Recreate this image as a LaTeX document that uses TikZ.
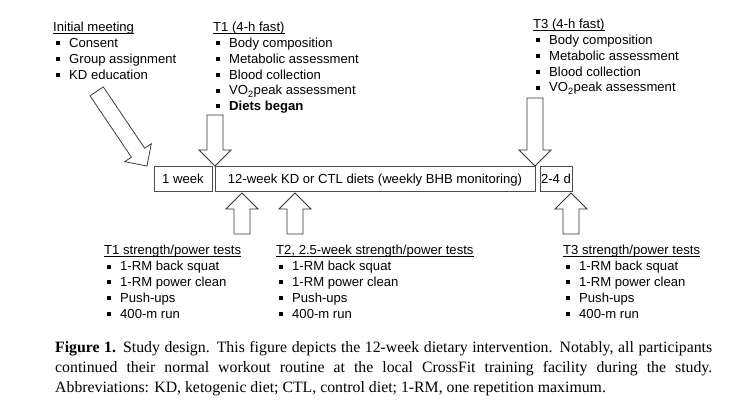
\documentclass[tikz,border=0pt]{standalone}
\usepackage{fontspec}
\setmainfont{Liberation Sans}
\newfontfamily\capfont{Liberation Serif}
\newcommand\ulx[1]{\setbox0\hbox{#1}\rlap{\rule[-1.9pt]{\wd0}{0.75pt}}\box0}
\newcommand\itm[1]{\makebox[16pt][l]{\hspace{2.5pt}\rule[2.2pt]{4pt}{4pt}}#1}
\tikzset{
  blk/.style={draw=black!80, line width=0.75pt, fill=white, line join=miter},
  pics/barrow/.style={code={\draw[blk] (0,0) -- (-16,16) -- (-16,8) -- (-#1,8) -- (-#1,-8) -- (-16,-8) -- (-16,-16) -- cycle;}}
}
\begin{document}
\begin{tikzpicture}[x=1pt,y=-1pt,
  txt/.style={anchor=base west, inner sep=0pt, font=\fontsize{13.1}{15.7}\selectfont},
  period/.style={draw=black!70, line width=0.8pt, minimum height=25pt, inner sep=0pt, text height=9.4pt, text depth=0pt, font=\fontsize{13.1}{15.7}\selectfont},
  captxt/.style={anchor=base west, inner sep=0pt, font=\capfont\fontsize{15.8}{20}\selectfont}
]
\fill[white] (0,0) rectangle (734,414);
\useasboundingbox (0,0) rectangle (734,414);

% timeline boxes
\node[period, minimum width=58pt] (w1) at (183,178.5) {1 week};
\node[period, minimum width=320pt] (diet) at (375,178.5) {12-week KD or CTL diets (weekly BHB monitoring)};
\node[period, minimum width=32pt] (d24) at (556,178.5) {2-4 d};

% block arrows
\pic[rotate=-56] at (147,166) {barrow=90};
\pic[rotate=-90] at (215,166) {barrow=51};
\pic[rotate=-90] at (535,166) {barrow=68};
\pic[rotate=90] at (242,193) {barrow=41};
\pic[rotate=90] at (295,193) {barrow=41};
\pic[rotate=90] at (571,193) {barrow=41};

% Initial meeting
\node[txt] (im0) at (53,32) {\ulx{Initial meeting}};
\foreach \t [count=\i] in {Consent,Group assignment,KD education}
  \node[txt] (im\i) at (53,32+15.7*\i) {\itm{\t}};

% T1 (4-h fast)
\node[txt] (ta0) at (213,32) {\ulx{T1 (4-h fast)}};
\foreach \t [count=\i] in {Body composition,Metabolic assessment,Blood collection,{VO\textsubscript{2}peak assessment},{\textbf{Diets began}}}
  \node[txt] (ta\i) at (213,32+15.7*\i) {\itm{\t}};

% T3 (4-h fast)
\node[txt] (tc0) at (533,29) {\ulx{T3 (4-h fast)}};
\foreach \t [count=\i] in {Body composition,Metabolic assessment,Blood collection,{VO\textsubscript{2}peak assessment}}
  \node[txt] (tc\i) at (533,29+15.7*\i) {\itm{\t}};

% strength tests
\node[txt] (sa0) at (104,255) {\ulx{T1 strength/power tests}};
\foreach \t [count=\i] in {1-RM back squat,1-RM power clean,Push-ups,400-m run}
  \node[txt] (sa\i) at (104,255+15.75*\i) {\itm{\t}};

\node[txt] (sb0) at (276,255) {\ulx{T2, 2.5-week strength/power tests}};
\foreach \t [count=\i] in {1-RM back squat,1-RM power clean,Push-ups,400-m run}
  \node[txt] (sb\i) at (276,255+15.75*\i) {\itm{\t}};

\node[txt] (sc0) at (563,255) {\ulx{T3 strength/power tests}};
\foreach \t [count=\i] in {1-RM back squat,1-RM power clean,Push-ups,400-m run}
  \node[txt] (sc\i) at (563,255+15.75*\i) {\itm{\t}};

% caption
\node[captxt] (c1) at (55,352) {\hbox to 657pt{\textbf{Figure 1.} Study design. This figure depicts the 12-week dietary intervention. Notably, all participants}};
\node[captxt] (c2) at (55,372) {\hbox to 657pt{continued their normal workout routine at the local CrossFit training facility during the study.}};
\node[captxt] (c3) at (55,392) {Abbreviations: KD, ketogenic diet; CTL, control diet; 1-RM, one repetition maximum.};
\end{tikzpicture}
\end{document}
